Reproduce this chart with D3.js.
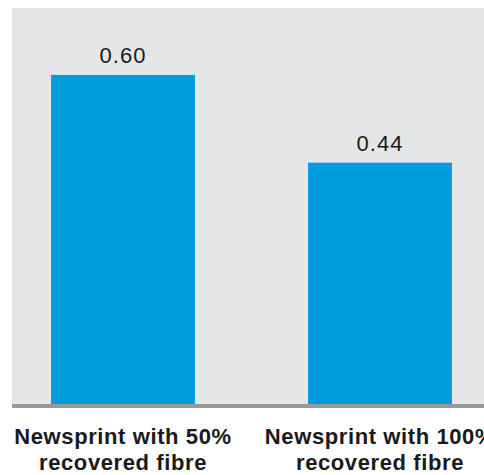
<!DOCTYPE html>
<html>
<head>
<meta charset="utf-8">
<script src="https://cdn.jsdelivr.net/npm/d3@7"></script>
<style>
  body { margin: 0; background: #fff; }
  svg { display: block; }
</style>
</head>
<body>
<div id="chart"></div>
<script>
// Chart data
var categories = ["Newsprint with 50% recovered fibre", "Newsprint with 100% recovered fibre"];
var labelLines = [["Newsprint with 50%", "recovered fibre"], ["Newsprint with 100%", "recovered fibre"]];
var values = [0.60, 0.44];
var valueLabels = ["0.60", "0.44"];

var W = 484, H = 475;
var plot = { left: 12, top: 8, right: 491, bottom: 404 };

var svg = d3.select("#chart")
  .append("svg")
  .attr("width", W)
  .attr("height", H);

// Scales
var x = d3.scaleBand()
  .domain(categories)
  .range([plot.left, plot.right])
  .paddingInner(0.44)
  .paddingOuter(0.152);

var y = d3.scaleLinear()
  .domain([0, 0.722])
  .range([plot.bottom, plot.top]);

// Grey plot background
svg.append("rect")
  .attr("x", plot.left)
  .attr("y", plot.top)
  .attr("width", W - plot.left)
  .attr("height", plot.bottom - plot.top)
  .attr("fill", "#e5e6e8");

// Bars
svg.selectAll(".bar")
  .data(categories)
  .enter().append("rect")
  .attr("class", "bar")
  .attr("x", function(d) { return x(d); })
  .attr("y", function(d, i) { return y(values[i]); })
  .attr("width", x.bandwidth())
  .attr("height", function(d, i) { return y(0) - y(values[i]); })
  .attr("fill", "#009ddc");

// Value labels above bars
svg.selectAll(".label")
  .data(categories)
  .enter().append("text")
  .attr("class", "label")
  .attr("x", function(d) { return x(d) + x.bandwidth() / 2; })
  .attr("y", function(d, i) { return y(values[i]) - 12; })
  .attr("text-anchor", "middle")
  .style("font-family", "'Liberation Sans', Arial, sans-serif")
  .style("font-size", "22px")
  .style("letter-spacing", "1px")
  .style("fill", "#1a1a1a")
  .text(function(d, i) { return valueLabels[i]; });

// X axis (thick grey baseline, no ticks)
var xAxis = svg.append("g")
  .attr("transform", "translate(0," + (plot.bottom + 2) + ")")
  .call(d3.axisBottom(x).tickSize(0).tickFormat(""));
xAxis.select(".domain")
  .attr("d", "M" + plot.left + ",0H" + W)
  .attr("stroke", "#999")
  .attr("stroke-width", 4);

// Category labels (two lines)
var cat = svg.selectAll(".cat")
  .data(categories)
  .enter().append("text")
  .attr("class", "cat")
  .attr("text-anchor", "middle")
  .style("font-family", "'Liberation Sans', Arial, sans-serif")
  .style("font-size", "22px")
  .style("font-weight", "bold")
  .style("letter-spacing", "0.6px")
  .style("fill", "#1a1a1a");

cat.each(function(d, i) {
  var t = d3.select(this);
  labelLines[i].forEach(function(line, j) {
    t.append("tspan")
      .attr("x", x(d) + x.bandwidth() / 2)
      .attr("y", 444 + j * 26)
      .text(line);
  });
});
</script>
</body>
</html>
